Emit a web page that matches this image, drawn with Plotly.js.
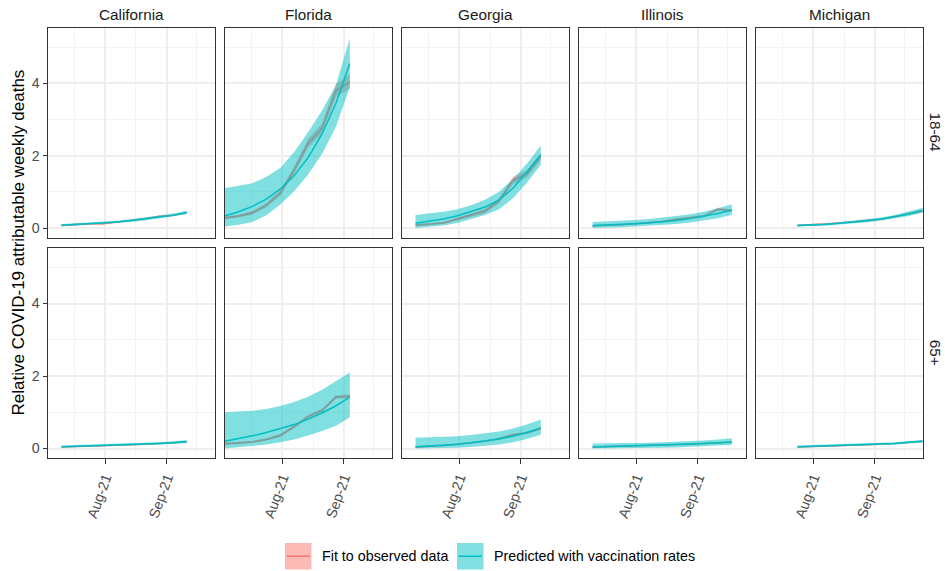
<!DOCTYPE html>
<html>
<head>
<meta charset="utf-8">
<script src="https://cdn.plot.ly/plotly-3.0.1.min.js"></script>
<style>html,body{margin:0;padding:0;background:#fff;}#chart{width:945px;height:571px;}</style>
</head>
<body>
<div id="chart"></div>
<script>
// ---------- DATA ----------
const states = ["California", "Florida", "Georgia", "Illinois", "Michigan"];
const ageGroups = ["18-64", "65+"];
const xTickVals = ["2021-08-01", "2021-09-01"];
const xTickText = ["Aug-21", "Sep-21"];
const yTickVals = [0, 2, 4];
const seriesNames = ["Fit to observed data", "Predicted with vaccination rates"];
const yTitle = "Relative COVID-19 attributable weekly deaths";

const weeksCA = ["2021-07-10","2021-07-17","2021-07-24","2021-07-31","2021-08-07","2021-08-14","2021-08-21","2021-08-28","2021-09-04","2021-09-11"];
const weeksFL = ["2021-07-03","2021-07-10","2021-07-17","2021-07-24","2021-07-31","2021-08-07","2021-08-14","2021-08-21","2021-08-28","2021-09-04"];
const weeksGA = ["2021-07-10","2021-07-17","2021-07-24","2021-07-31","2021-08-07","2021-08-14","2021-08-21","2021-08-28","2021-09-04","2021-09-11"];
const weeksIL = ["2021-07-10","2021-07-17","2021-07-24","2021-07-31","2021-08-07","2021-08-14","2021-08-21","2021-08-28","2021-09-04","2021-09-11","2021-09-18"];
const weeksMI = ["2021-07-24","2021-07-31","2021-08-07","2021-08-14","2021-08-21","2021-08-28","2021-09-04","2021-09-11","2021-09-18","2021-09-25"];

// California 18-64
const ca1864Pred   = [0.08,0.10,0.12,0.14,0.17,0.21,0.25,0.30,0.35,0.43];
const ca1864PredLo = [0.05,0.07,0.09,0.11,0.14,0.17,0.21,0.26,0.31,0.38];
const ca1864PredHi = [0.11,0.13,0.15,0.17,0.20,0.24,0.29,0.34,0.40,0.48];
const ca1864Obs    = [0.07,0.10,0.12,0.12,0.16,0.21,0.26,0.32,0.35,0.42];
const ca1864ObsLo  = [0.05,0.08,0.10,0.10,0.14,0.19,0.24,0.30,0.33,0.40];
const ca1864ObsHi  = [0.09,0.12,0.14,0.14,0.18,0.23,0.28,0.34,0.37,0.44];
// California 65+
const ca65Pred   = [0.05,0.06,0.07,0.08,0.09,0.10,0.12,0.14,0.16,0.19];
const ca65PredLo = [0.02,0.03,0.04,0.05,0.06,0.07,0.09,0.11,0.13,0.15];
const ca65PredHi = [0.08,0.09,0.10,0.11,0.12,0.13,0.15,0.17,0.20,0.23];
const ca65Obs    = [0.04,0.05,0.06,0.08,0.09,0.10,0.12,0.14,0.16,0.18];
const ca65ObsLo  = [0.03,0.04,0.05,0.07,0.08,0.09,0.11,0.13,0.15,0.17];
const ca65ObsHi  = [0.05,0.06,0.07,0.09,0.10,0.11,0.13,0.15,0.17,0.19];
// Florida 18-64
const fl1864Pred   = [0.33,0.45,0.60,0.80,1.08,1.45,1.95,2.60,3.45,4.55];
const fl1864PredLo = [0.04,0.09,0.17,0.35,0.65,1.02,1.48,2.05,2.80,3.90];
const fl1864PredHi = [1.10,1.16,1.24,1.42,1.66,2.10,2.65,3.25,3.95,5.25];
const fl1864Obs    = [0.28,0.33,0.42,0.63,0.97,1.60,2.34,2.76,3.80,4.04];
const fl1864ObsLo  = [0.24,0.29,0.37,0.57,0.89,1.50,2.22,2.62,3.62,3.85];
const fl1864ObsHi  = [0.32,0.37,0.47,0.69,1.05,1.70,2.46,2.90,3.98,4.25];
// Florida 65+
const fl65Pred   = [0.20,0.27,0.35,0.44,0.54,0.66,0.81,0.98,1.18,1.42];
const fl65PredLo = [0.00,0.03,0.07,0.11,0.17,0.25,0.36,0.48,0.63,0.86];
const fl65PredHi = [1.00,1.01,1.04,1.09,1.17,1.28,1.43,1.62,1.85,2.10];
const fl65Obs    = [0.13,0.15,0.18,0.25,0.36,0.60,0.88,1.05,1.42,1.44];
const fl65ObsLo  = [0.10,0.12,0.15,0.22,0.32,0.56,0.83,1.00,1.37,1.39];
const fl65ObsHi  = [0.16,0.18,0.21,0.28,0.40,0.64,0.93,1.10,1.47,1.49];
// Georgia 18-64
const ga1864Pred   = [0.13,0.18,0.25,0.34,0.45,0.58,0.78,1.10,1.55,2.02];
const ga1864PredLo = [0.00,0.03,0.07,0.14,0.24,0.36,0.52,0.82,1.25,1.75];
const ga1864PredHi = [0.36,0.40,0.45,0.52,0.63,0.78,1.00,1.35,1.78,2.28];
const ga1864Obs    = [0.08,0.10,0.14,0.25,0.36,0.47,0.75,1.32,1.50,1.98];
const ga1864ObsLo  = [0.05,0.07,0.11,0.21,0.31,0.41,0.68,1.22,1.40,1.88];
const ga1864ObsHi  = [0.11,0.13,0.17,0.29,0.41,0.53,0.82,1.42,1.60,2.08];
// Georgia 65+
const ga65Pred   = [0.05,0.07,0.09,0.12,0.16,0.20,0.26,0.34,0.44,0.57];
const ga65PredLo = [0.00,0.00,0.01,0.02,0.04,0.07,0.11,0.17,0.26,0.38];
const ga65PredHi = [0.30,0.31,0.32,0.34,0.37,0.41,0.47,0.55,0.66,0.80];
const ga65Obs    = [0.04,0.05,0.08,0.12,0.16,0.20,0.27,0.38,0.43,0.55];
const ga65ObsLo  = [0.02,0.03,0.06,0.10,0.14,0.18,0.24,0.35,0.40,0.52];
const ga65ObsHi  = [0.06,0.07,0.10,0.14,0.18,0.22,0.30,0.41,0.46,0.58];
// Illinois 18-64
const il1864Pred   = [0.07,0.08,0.10,0.12,0.14,0.17,0.21,0.26,0.32,0.40,0.50];
const il1864PredLo = [0.00,0.00,0.02,0.04,0.06,0.08,0.11,0.15,0.20,0.27,0.36];
const il1864PredHi = [0.17,0.18,0.20,0.22,0.25,0.28,0.33,0.38,0.45,0.55,0.66];
const il1864Obs    = [0.06,0.07,0.09,0.12,0.14,0.18,0.24,0.28,0.33,0.52,0.48];
const il1864ObsLo  = [0.04,0.05,0.07,0.10,0.12,0.16,0.21,0.25,0.30,0.48,0.44];
const il1864ObsHi  = [0.08,0.09,0.11,0.14,0.16,0.20,0.27,0.31,0.36,0.56,0.52];
// Illinois 65+
const il65Pred   = [0.04,0.05,0.06,0.07,0.08,0.09,0.10,0.12,0.14,0.16,0.18];
const il65PredLo = [0.00,0.00,0.00,0.00,0.01,0.02,0.03,0.04,0.06,0.08,0.10];
const il65PredHi = [0.14,0.14,0.15,0.15,0.16,0.17,0.18,0.20,0.22,0.25,0.28];
const il65Obs    = [0.04,0.05,0.05,0.06,0.08,0.10,0.11,0.12,0.14,0.16,0.17];
const il65ObsLo  = [0.03,0.04,0.04,0.05,0.07,0.09,0.10,0.11,0.13,0.15,0.16];
const il65ObsHi  = [0.05,0.06,0.06,0.07,0.09,0.11,0.12,0.13,0.15,0.17,0.18];
// Michigan 18-64
const mi1864Pred   = [0.07,0.08,0.10,0.13,0.16,0.20,0.25,0.31,0.39,0.49];
const mi1864PredLo = [0.04,0.05,0.07,0.10,0.12,0.16,0.21,0.26,0.33,0.42];
const mi1864PredHi = [0.10,0.11,0.13,0.16,0.20,0.24,0.29,0.36,0.45,0.56];
const mi1864Obs    = [0.07,0.08,0.11,0.14,0.17,0.20,0.24,0.31,0.40,0.47];
const mi1864ObsLo  = [0.05,0.06,0.09,0.12,0.15,0.18,0.22,0.29,0.37,0.44];
const mi1864ObsHi  = [0.09,0.10,0.13,0.16,0.19,0.22,0.26,0.33,0.43,0.50];
// Michigan 65+
const mi65Pred   = [0.05,0.06,0.07,0.08,0.09,0.10,0.12,0.14,0.17,0.20];
const mi65PredLo = [0.02,0.03,0.04,0.05,0.06,0.07,0.09,0.11,0.14,0.16];
const mi65PredHi = [0.08,0.09,0.10,0.11,0.12,0.13,0.15,0.17,0.20,0.24];
const mi65Obs    = [0.04,0.05,0.07,0.08,0.09,0.10,0.12,0.14,0.17,0.20];
const mi65ObsLo  = [0.03,0.04,0.06,0.07,0.08,0.09,0.11,0.13,0.16,0.19];
const mi65ObsHi  = [0.05,0.06,0.08,0.09,0.10,0.11,0.13,0.15,0.18,0.21];

// ---------- PANELS (row-major: row 0 = 18-64, row 1 = 65+) ----------
const panels = [
  {x: weeksCA, pred: ca1864Pred, predLo: ca1864PredLo, predHi: ca1864PredHi, obs: ca1864Obs, obsLo: ca1864ObsLo, obsHi: ca1864ObsHi},
  {x: weeksFL, pred: fl1864Pred, predLo: fl1864PredLo, predHi: fl1864PredHi, obs: fl1864Obs, obsLo: fl1864ObsLo, obsHi: fl1864ObsHi},
  {x: weeksGA, pred: ga1864Pred, predLo: ga1864PredLo, predHi: ga1864PredHi, obs: ga1864Obs, obsLo: ga1864ObsLo, obsHi: ga1864ObsHi},
  {x: weeksIL, pred: il1864Pred, predLo: il1864PredLo, predHi: il1864PredHi, obs: il1864Obs, obsLo: il1864ObsLo, obsHi: il1864ObsHi},
  {x: weeksMI, pred: mi1864Pred, predLo: mi1864PredLo, predHi: mi1864PredHi, obs: mi1864Obs, obsLo: mi1864ObsLo, obsHi: mi1864ObsHi},
  {x: weeksCA, pred: ca65Pred, predLo: ca65PredLo, predHi: ca65PredHi, obs: ca65Obs, obsLo: ca65ObsLo, obsHi: ca65ObsHi},
  {x: weeksFL, pred: fl65Pred, predLo: fl65PredLo, predHi: fl65PredHi, obs: fl65Obs, obsLo: fl65ObsLo, obsHi: fl65ObsHi},
  {x: weeksGA, pred: ga65Pred, predLo: ga65PredLo, predHi: ga65PredHi, obs: ga65Obs, obsLo: ga65ObsLo, obsHi: ga65ObsHi},
  {x: weeksIL, pred: il65Pred, predLo: il65PredLo, predHi: il65PredHi, obs: il65Obs, obsLo: il65ObsLo, obsHi: il65ObsHi},
  {x: weeksMI, pred: mi65Pred, predLo: mi65PredLo, predHi: mi65PredHi, obs: mi65Obs, obsLo: mi65ObsLo, obsHi: mi65ObsHi}
];

// ---------- STYLE / LAYOUT ----------
const W = 945, H = 571;
const M = {l: 47, r: 22, t: 27, b: 113};
const PW = W - M.l - M.r, PH = H - M.t - M.b;
const px2x = p => (p - M.l) / PW;
const px2y = p => 1 - (p - M.t) / PH;

const RED = "#F8766D", TEAL = "#00BFC4";
const RED_FILL = "rgba(248,118,109,0.5)", TEAL_FILL = "rgba(0,191,196,0.5)";
const FONT = "Liberation Sans, Arial, sans-serif";

const colLeft = [47.5, 224.6, 401.6, 578.7, 755.7];
const colWidth = 167;
const rowTop = [27.5, 247.5], rowBottom = [237.5, 458];

const traces = [];
const layout = {
  width: W, height: H,
  margin: M,
  paper_bgcolor: "#fff", plot_bgcolor: "#fff",
  showlegend: false,
  font: {family: FONT, color: "#4D4D4D"},
  annotations: [], shapes: []
};

panels.forEach((p, k) => {
  const row = Math.floor(k / 5), col = k % 5;
  const id = k === 0 ? "" : String(k + 1);
  const xa = "x" + id, ya = "y" + id;
  const line = {width: 0, color: "rgba(0,0,0,0)"};
  traces.push({x: p.x, y: p.obsLo, xaxis: xa, yaxis: ya, mode: "lines", line: line, hoverinfo: "skip"});
  traces.push({x: p.x, y: p.obsHi, xaxis: xa, yaxis: ya, mode: "lines", line: line, fill: "tonexty", fillcolor: RED_FILL, hoverinfo: "skip"});
  traces.push({x: p.x, y: p.obs, xaxis: xa, yaxis: ya, mode: "lines", line: {color: RED, width: 1.5}, name: seriesNames[0]});
  traces.push({x: p.x, y: p.predLo, xaxis: xa, yaxis: ya, mode: "lines", line: line, hoverinfo: "skip"});
  traces.push({x: p.x, y: p.predHi, xaxis: xa, yaxis: ya, mode: "lines", line: line, fill: "tonexty", fillcolor: TEAL_FILL, hoverinfo: "skip"});
  traces.push({x: p.x, y: p.pred, xaxis: xa, yaxis: ya, mode: "lines", line: {color: TEAL, width: 1.5}, name: seriesNames[1]});

  const bottom = row === 1, left = col === 0;
  layout["xaxis" + id] = {
    type: "date",
    range: ["2021-07-03", "2021-09-25"],
    domain: [px2x(colLeft[col]), px2x(colLeft[col] + colWidth)],
    anchor: ya,
    tickmode: "array", tickvals: xTickVals, ticktext: xTickText,
    showticklabels: bottom, ticks: bottom ? "outside" : "", ticklen: 5, tickwidth: 1, tickcolor: "#333333",
    tickangle: -70, tickfont: {size: 14.2, color: "#4D4D4D", family: FONT},
    showgrid: true, gridcolor: "#EEEEEE", gridwidth: 2,
    minor: {tickmode: "array", tickvals: ["2021-07-16 12:00", "2021-08-16 12:00", "2021-09-16"], showgrid: true, gridcolor: "#F3F3F3", gridwidth: 1, ticks: ""},
    showline: true, mirror: true, linecolor: "#333333", linewidth: 1,
    zeroline: false, fixedrange: true
  };
  layout["yaxis" + id] = {
    range: [-0.262, 5.545],
    domain: [px2y(rowBottom[row]), px2y(rowTop[row])],
    anchor: xa,
    tickmode: "array", tickvals: yTickVals,
    showticklabels: left, ticks: left ? "outside" : "", ticklen: 4, tickwidth: 1, tickcolor: "#333333",
    tickfont: {size: 14.2, color: "#4D4D4D", family: FONT},
    showgrid: true, gridcolor: "#EEEEEE", gridwidth: 2,
    minor: {tickmode: "array", tickvals: [1, 3, 5], showgrid: true, gridcolor: "#F3F3F3", gridwidth: 1, ticks: ""},
    showline: true, mirror: true, linecolor: "#333333", linewidth: 1,
    zeroline: false, fixedrange: true
  };
});

// strip labels (top)
states.forEach((s, c) => {
  layout.annotations.push({
    text: s, xref: "paper", yref: "paper",
    x: px2x(colLeft[c] + colWidth / 2), y: px2y(14),
    xanchor: "center", yanchor: "middle", showarrow: false,
    font: {size: 15.3, color: "#1A1A1A", family: FONT}
  });
});
// strip labels (right)
ageGroups.forEach((g, r) => {
  layout.annotations.push({
    text: g, xref: "paper", yref: "paper",
    x: px2x(935), y: px2y((rowTop[r] + rowBottom[r]) / 2),
    xanchor: "center", yanchor: "middle", showarrow: false, textangle: 90,
    font: {size: 15.3, color: "#1A1A1A", family: FONT}
  });
});
// y axis title
layout.annotations.push({
  text: yTitle, xref: "paper", yref: "paper",
  x: px2x(18), y: px2y(242.5), xanchor: "center", yanchor: "middle",
  showarrow: false, textangle: -90,
  font: {size: 17, color: "#000000", family: FONT}
});

// legend (drawn)
const legendKeys = [
  {left: 285, fill: RED_FILL, color: RED, textX: 320, label: seriesNames[0]},
  {left: 457, fill: TEAL_FILL, color: TEAL, textX: 491.5, label: seriesNames[1]}
];
const keyTop = 543, keySize = 26.5;
legendKeys.forEach(k => {
  layout.shapes.push({type: "rect", xref: "paper", yref: "paper",
    x0: px2x(k.left), x1: px2x(k.left + keySize), y0: px2y(keyTop + keySize), y1: px2y(keyTop),
    fillcolor: k.fill, line: {width: 0}, layer: "above"});
  layout.shapes.push({type: "line", xref: "paper", yref: "paper",
    x0: px2x(k.left + 1.5), x1: px2x(k.left + keySize - 1.5), y0: px2y(keyTop + keySize / 2), y1: px2y(keyTop + keySize / 2),
    line: {color: k.color, width: 1.5}, layer: "above"});
  layout.annotations.push({text: k.label, xref: "paper", yref: "paper",
    x: px2x(k.textX), y: px2y(keyTop + keySize / 2), xanchor: "left", yanchor: "middle",
    showarrow: false, font: {size: 14.3, color: "#000000", family: FONT}});
});

Plotly.newPlot("chart", traces, layout, {staticPlot: true, displayModeBar: false});
</script>
</body>
</html>
